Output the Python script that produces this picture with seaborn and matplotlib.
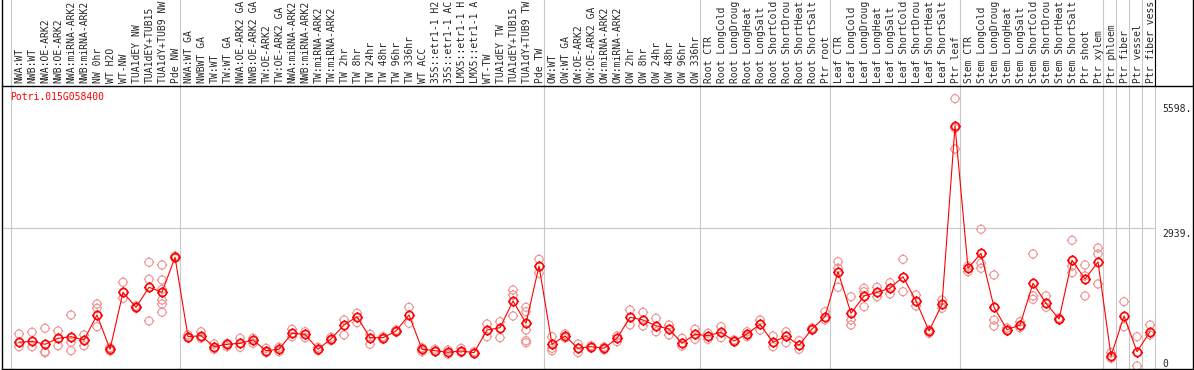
import numpy as np
import pandas as pd
import seaborn as sns
import matplotlib.pyplot as plt
from matplotlib.path import Path
from matplotlib import transforms

gene_id = "Potri.015G058400"

# sample labels, one list per tissue group (text as shown, cut at the top)
nw_labels = ["NWA:WT", "NWB:WT", "NWA:OE-ARK2", "NWB:OE-ARK2", "NWA:miRNA-ARK2",
             "NWB:miRNA-ARK2", "NW 0hr", "WT H2O", "WT-NW", "TUA1dEY NW",
             "TUA1dEY+TUB15", "TUA1dY+TUB9 NW", "Pde NW"]
tw_labels = ["NWA:WT GA", "NWBWT GA", "TW:WT", "TW:WT GA", "NWA:OE-ARK2 GA",
             "NWB:OE-ARK2 GA", "TW:OE-ARK2", "TW:OE-ARK2 GA", "NWA:miRNA-ARK2",
             "NWB:miRNA-ARK2", "TW:miRNA-ARK2", "TW:miRNA-ARK2", "TW 2hr", "TW 8hr",
             "TW 24hr", "TW 48hr", "TW 96hr", "TW 336hr", "WT ACC", "35S::etr1-1 H2",
             "35S::etr1-1 AC", "LMX5::etr1-1 H", "LMX5::etr1-1 A", "WT-TW",
             "TUA1dEY TW", "TUA1dEY+TUB15", "TUA1dY+TUB9 TW", "Pde TW"]
ow_labels = ["OW:WT", "OW:WT GA", "OW:OE-ARK2", "OW:OE-ARK2 GA", "OW:miRNA-ARK2",
             "OW:miRNA-ARK2", "OW 2hr", "OW 8hr", "OW 24hr", "OW 48hr", "OW 96hr",
             "OW 336hr"]
root_labels = ["Root CTR", "Root LongCold", "Root LongDroug", "Root LongHeat",
               "Root LongSalt", "Root ShortCold", "Root ShortDrou", "Root ShortHeat",
               "Root ShortSalt", "Ptr root"]
leaf_labels = ["Leaf CTR", "Leaf LongCold", "Leaf LongDroug", "Leaf LongHeat",
               "Leaf LongSalt", "Leaf ShortCold", "Leaf ShortDrou", "Leaf ShortHeat",
               "Leaf ShortSalt", "Ptr leaf"]
stem_labels = ["Stem CTR", "Stem LongCold", "Stem LongDroug", "Stem LongHeat",
               "Stem LongSalt", "Stem ShortCold", "Stem ShortDrou", "Stem ShortHeat",
               "Stem ShortSalt", "Ptr shoot", "Ptr xylem"]
cell_labels = ["Ptr phloem", "Ptr fiber", "Ptr vessel", "Ptr fiber vess"]

# mean expression per sample
nw_mean = [601, 621, 560, 683, 716, 648, 1161, 457, 1626, 1319, 1729, 1626, 2344]
tw_mean = [716, 736, 511, 560, 580, 648, 429, 457, 786, 765, 457, 669, 956, 1126,
           695, 695, 833, 1161, 457, 429, 396, 423, 388, 853, 900, 1448, 991, 2166]
ow_mean = [560, 730, 478, 511, 478, 683, 1114, 1058, 941, 874, 580, 765]
root_mean = [736, 806, 628, 771, 970, 601, 730, 539, 874, 1126]
leaf_mean = [2049, 1196, 1551, 1626, 1708, 1946, 1448, 833, 1380, 5043]
stem_mean = [2119, 2426, 1319, 859, 956, 1811, 1401, 1079, 2283, 1899, 2248]
cell_mean = [320, 1140, 408, 818]

# replicate values per sample
nw_reps = [[771, 511], [806, 511], [888, 408, 388], [833, 531], [1161, 601, 429],
           [751, 531], [1386, 1298, 921], [490, 423], [1832, 1503], [1345, 1298],
           [2242, 1893, 1038], [2186, 1879, 1688, 1469, 1386, 1216], [2371, 2324]]
tw_reps = [[751, 683], [818, 683], [566, 457], [580, 511], [683, 498], [580, 683],
           [478, 388], [498, 408], [868, 716], [818, 695], [498, 429], [704, 634],
           [1058, 751], [1196, 1003], [765, 560], [716, 662], [853, 812], [1319, 991],
           [490, 408], [457, 408], [443, 355], [478, 388], [408, 370], [976, 716],
           [1023, 695], [1674, 1571, 1140], [1319, 1229, 853, 634, 593], [2303, 2016]]
ow_reps = [[716, 478, 429], [771, 689], [566, 388], [531, 484], [505, 449], [730, 613],
           [1263, 956], [1216, 935], [1093, 818], [956, 751], [683, 525], [868, 662]]
root_reps = [[786, 662], [921, 695], [648, 610], [818, 716], [1058, 853], [730, 511],
             [818, 593], [634, 457], [894, 850], [1229, 1058]]
leaf_reps = [[2254, 2119, 1729], [1536, 1058, 956], [1708, 1639, 1331], [1729, 1536],
             [1823, 1592], [2303, 1639], [1571, 1345], [853, 786], [1469, 1298],
             [5598, 4990, 4565]]
stem_reps = [[2049, 2166], [2919, 2221, 2119], [1981, 1058, 935], [894, 830],
             [1023, 900], [2412, 1551, 1483], [1551, 1319], [1099, 1060],
             [2693, 2166, 2028], [2186, 1961, 1551], [2535, 2412, 1797]]
cell_reps = [[388, 273], [1434, 921], [716, 115], [956, 751]]

y_max_label = 5598
y_mid_label = 2939

RED = "#ff0000"
PINK = "#ee9494"
GRID = "#c8c8c8"
W, H = 1194, 370


def sun_marker():
    # open circle with four short ticks, like the original symbols
    parts = [Path.unit_circle()]
    for dx, dy in [(0, 1), (0, -1), (1, 0), (-1, 0)]:
        parts.append(Path([(dx, dy), (dx * 1.3, dy * 1.3)], [Path.MOVETO, Path.LINETO]))
    return Path.make_compound_path(*parts)


def main():
    sns.set_style("white")
    plt.rcParams['font.family'] = ['DejaVu Sans Mono']

    groups = [nw_labels, tw_labels, ow_labels, root_labels, leaf_labels, stem_labels]
    groups += [[c] for c in cell_labels]
    labels = sum(groups, [])
    means = nw_mean + tw_mean + ow_mean + root_mean + leaf_mean + stem_mean + cell_mean
    reps = nw_reps + tw_reps + ow_reps + root_reps + leaf_reps + stem_reps + cell_reps
    bounds = np.concatenate([[0], np.cumsum([len(g) for g in groups])])

    xpos = np.arange(len(labels)) + 0.64
    rep_df = pd.DataFrame(
        [(xpos[i], v) for i, vals in enumerate(reps) for v in vals],
        columns=["pos", "value"])

    fig = plt.figure(figsize=(W / 100, H / 100), dpi=100)
    ax = fig.add_axes([1.7 / W, 1 - 369 / H, (1192.7 - 1.7) / W, (369 - 85.5) / H])
    ax.set_xlim(-9.0 / 13, (1192.7 - 10.7) / 13)
    ax.set_ylim(53, 5868)
    top = 1 + 85.5 / 283.5 + 0.01

    # group separators run through the header too
    for b in bounds:
        ax.axvline(b, 0, top, color=GRID, lw=0.8, clip_on=False, zorder=1)
    ax.axvline(bounds[-1], 1, top, color="black", lw=0.8, clip_on=False, zorder=1)
    for xe in ax.get_xlim():
        ax.axvline(xe, 1, top, color="black", lw=1.0, clip_on=False)
    ax.hlines(y_mid_label, ax.get_xlim()[0], bounds[-1], color=GRID, lw=0.8, zorder=1)

    marker = sun_marker()
    sns.scatterplot(data=rep_df, x="pos", y="value", ax=ax, marker=marker, s=56,
                    facecolor="none", edgecolor=PINK, linewidth=0.8, zorder=2)
    sns.lineplot(x=xpos, y=means, ax=ax, color=RED, linewidth=0.8, marker=marker,
                 markersize=7.5, markerfacecolor="none", markeredgecolor=RED,
                 markeredgewidth=1.2, zorder=3)

    ax.set_xticks([])
    ax.set_yticks([])
    ax.set_xlabel("")
    ax.set_ylabel("")
    for s in ax.spines.values():
        s.set_color("black")
        s.set_linewidth(1.0)

    # sample names, rotated, sitting on the header line
    trans = transforms.blended_transform_factory(ax.transData, ax.transAxes)
    for x, lab in zip(xpos, labels):
        ax.text(x + 0.06, 1.008, lab, transform=trans, rotation=90, ha="center",
                va="bottom", fontsize=7, clip_on=False)

    ax.text(0.007, 0.96, gene_id, transform=ax.transAxes, color=RED, fontsize=7,
            ha="left", va="center")

    # value labels at the right edge
    xl = bounds[-1] + 0.6
    ax.annotate(f"{y_max_label}.", (xl, y_max_label), xytext=(0, -3.5),
                textcoords="offset points", fontsize=7, va="top", ha="left")
    ax.annotate(f"{y_mid_label}.", (xl, y_mid_label), xytext=(0, -0.5),
                textcoords="offset points", fontsize=7, va="top", ha="left")
    ax.annotate("0", (xl, 53), xytext=(0, 7.5),
                textcoords="offset points", fontsize=7, va="top", ha="left")

    fig.savefig("out.png", dpi=100)


if __name__ == "__main__":
    main()
